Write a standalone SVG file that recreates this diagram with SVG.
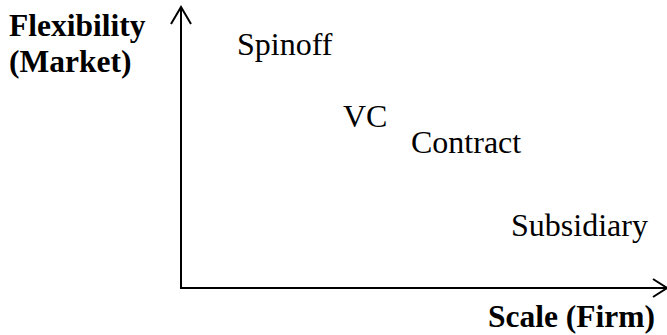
<svg xmlns="http://www.w3.org/2000/svg" width="667" height="335" viewBox="0 0 667 335">
<style>
.lbl{font-family:"Liberation Serif","Times New Roman",serif;font-size:32px;fill:#000}
.b{font-weight:bold;font-size:31.5px}
.ax{stroke:#000;stroke-width:2;fill:none}
</style>
<rect width="667" height="335" fill="#fff"/>
<g id="connectors">
<polyline class="ax" points="181,7 181,288 667,288"/>
<polyline class="ax" points="171,24 181,7 191,24"/>
<polyline class="ax" points="653,279 667,288 653,297"/>
</g>
<g id="axis-y"><text class="lbl b" x="9" y="36">Flexibility</text><text class="lbl b" x="9" y="72">(Market)</text></g>
<g id="axis-x"><text class="lbl b" x="488" y="327">Scale (Firm)</text></g>
<g id="spinoff"><text class="lbl" x="237" y="55">Spinoff</text></g>
<g id="vc"><text class="lbl" x="343" y="127">VC</text></g>
<g id="contract"><text class="lbl" x="411" y="153">Contract</text></g>
<g id="subsidiary"><text class="lbl" x="511" y="236">Subsidiary</text></g>
</svg>
